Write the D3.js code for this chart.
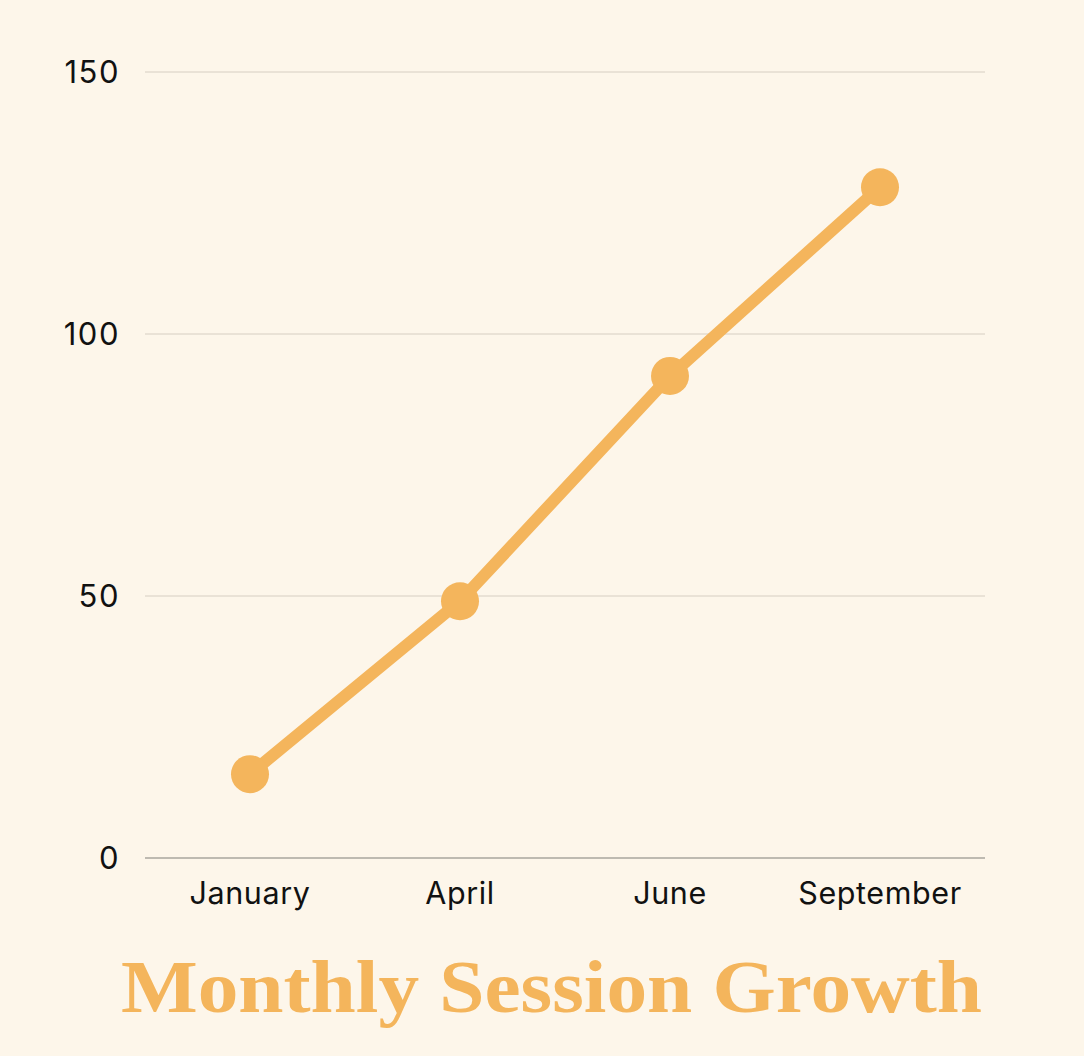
<!DOCTYPE html>
<html>
<head>
<meta charset="utf-8">
<script src="https://cdn.jsdelivr.net/npm/d3@7"></script>
<style>
  html, body { margin: 0; padding: 0; background: #fdf6ea; }
  svg { display: block; }
</style>
</head>
<body>
<div id="chart-area"></div>
<script>
// SVG Size
var width = 1084,
	height = 1056;

var months = ["January", "April", "June", "September"];
var sessions = [16, 49, 92, 128];
var yTicks = [0, 50, 100, 150];

var margin = {top: 72, right: 99, bottom: 198, left: 145};

var svg = d3.select("#chart-area")
	.append("svg")
	.attr("width", width)
	.attr("height", height);

svg.append("rect")
	.attr("width", width)
	.attr("height", height)
	.attr("fill", "#fdf6ea");

var x = d3.scaleBand()
	.domain(months)
	.range([margin.left, width - margin.right]);

var y = d3.scaleLinear()
	.domain([0, 150])
	.range([height - margin.bottom, margin.top]);

// gridlines
svg.selectAll(".grid")
	.data(yTicks)
	.enter()
	.append("line")
	.attr("class", "grid")
	.attr("x1", margin.left)
	.attr("x2", width - margin.right)
	.attr("y1", function(d) { return y(d); })
	.attr("y2", function(d) { return y(d); })
	.attr("stroke", function(d) { return d === 0 ? "#a9a69e" : "#d6cec2"; })
	.attr("stroke-width", function(d) { return d === 0 ? 1.5 : 1; });

// y labels
svg.selectAll(".ylab")
	.data(yTicks)
	.enter()
	.append("text")
	.attr("class", "ylab")
	.attr("x", 120)
	.attr("y", function(d) { return y(d); })
	.attr("dy", "0.36em")
	.attr("text-anchor", "end")
	.attr("font-family", "Inter, 'Noto Sans', sans-serif")
	.attr("font-size", 31)
	.attr("letter-spacing", 1.5)
	.attr("fill", "#111")
	.text(function(d) { return d; });

// x labels
svg.selectAll(".xlab")
	.data(months)
	.enter()
	.append("text")
	.attr("class", "xlab")
	.attr("x", function(d) { return x(d) + x.bandwidth() / 2; })
	.attr("y", 904)
	.attr("text-anchor", "middle")
	.attr("font-family", "Inter, 'Noto Sans', sans-serif")
	.attr("font-size", 30.5)
	.attr("letter-spacing", 0.6)
	.attr("fill", "#111")
	.text(function(d) { return d; });

var data = months.map(function(m, i) { return {month: m, value: sessions[i]}; });

var line = d3.line()
	.x(function(d) { return x(d.month) + x.bandwidth() / 2; })
	.y(function(d) { return y(d.value); });

svg.append("path")
	.datum(data)
	.attr("d", line)
	.attr("fill", "none")
	.attr("stroke", "#f4b55c")
	.attr("stroke-width", 12);

svg.selectAll(".dot")
	.data(data)
	.enter()
	.append("circle")
	.attr("class", "dot")
	.attr("cx", function(d) { return x(d.month) + x.bandwidth() / 2; })
	.attr("cy", function(d) { return y(d.value); })
	.attr("r", 19)
	.attr("fill", "#f4b55c");

// title
svg.append("text")
	.attr("x", 121)
	.attr("y", 1012)
	.attr("font-family", "'Liberation Serif', 'DejaVu Serif', serif")
	.attr("font-weight", "bold")
	.attr("font-size", 74)
	.attr("textLength", 861)
	.attr("lengthAdjust", "spacingAndGlyphs")
	.attr("fill", "#f4b55c")
	.text("Monthly Session Growth");
</script>
</body>
</html>
